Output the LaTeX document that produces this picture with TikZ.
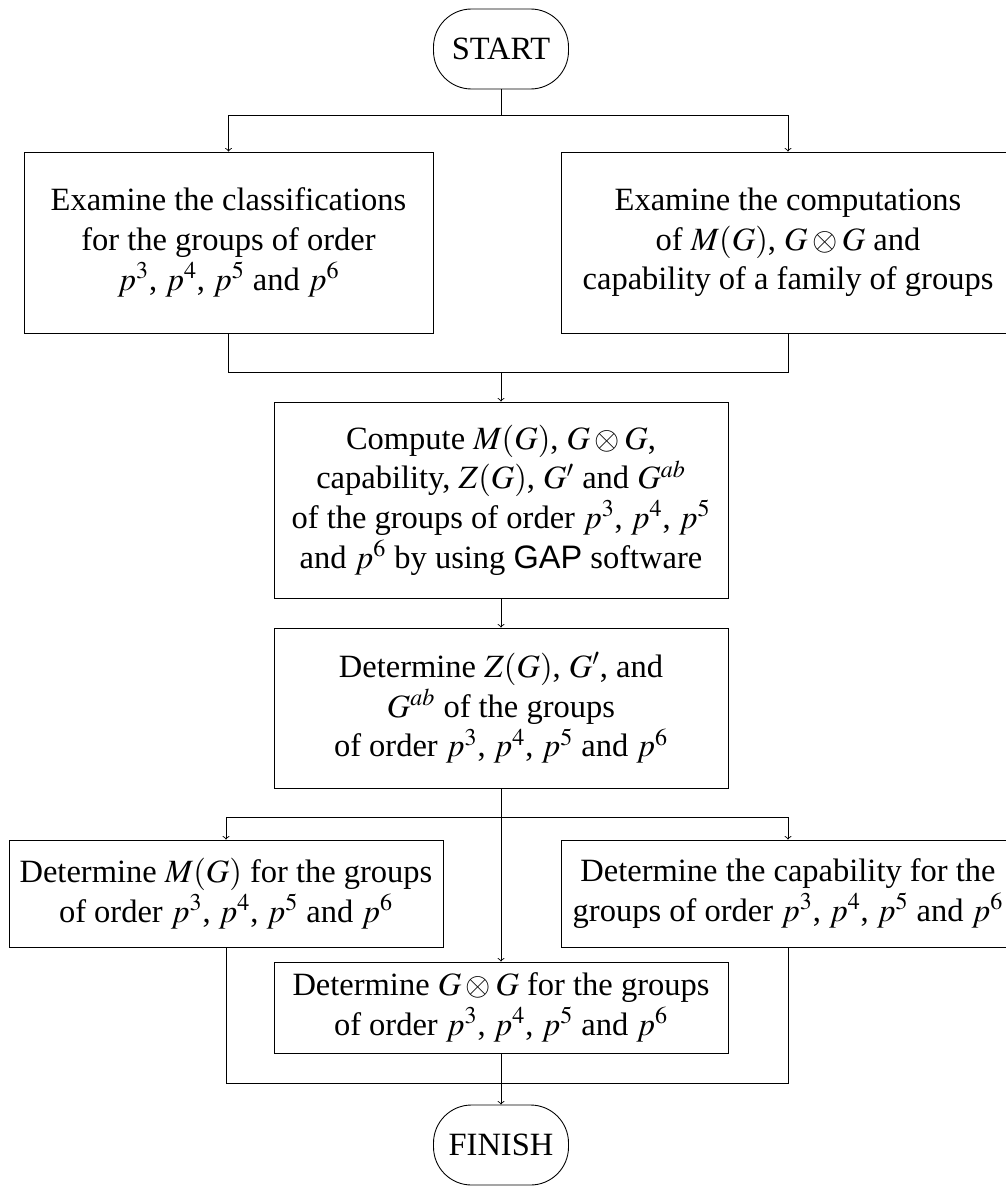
\documentclass[tikz,border=0pt]{standalone}
\usepackage{mathptmx}
\usepackage{fontspec}
\setmainfont{Liberation Serif}
\setsansfont{Liberation Sans}
\usetikzlibrary{positioning}
\newcommand{\px}{0.02cm}
\begin{document}
\begin{tikzpicture}[x=\px,y=-\px,line width=0.5pt,>=to,
  box/.style={draw,align=center,inner sep=0pt,font=\fontsize{18.5}{22.6}\selectfont},
  term/.style={draw,rounded corners=38*\px,minimum width=135*\px,minimum height=80*\px,inner sep=0pt,font=\fontsize{18.5}{22}\selectfont}]
\useasboundingbox (0,0) rectangle (1006,1186);

% Terminals
\node[term] (start) at (501,49) {START};
\node[term] (finish) at (501,1145) {FINISH};

% First row: the two surveys
\node[box,minimum width=409*\px,minimum height=181*\px] (examA) at (228.5,242.5)
  {Examine the classifications\\ for the groups of order\\ $p^3$, $p^4$, $p^5$ and $p^6$};
\node[box,minimum width=454*\px,minimum height=181*\px] (examB) at (788,242.5)
  {Examine the computations\\ of $M(G)$, $G\otimes G$ and\\ capability of a family of groups};

% Computation and first results
\node[box,minimum width=454*\px,minimum height=196*\px] (comp) at (501,500)
  {Compute $M(G)$, $G\otimes G$,\\ capability, $Z(G)$, $G'$ and $G^{ab}$\\ of the groups of order $p^3$, $p^4$, $p^5$\\ and $p^6$ by using \textsf{GAP} software};
\node[box,minimum width=454*\px,minimum height=160*\px] (detZ) at (501,708)
  {Determine $Z(G)$, $G'$, and\\ $G^{ab}$ of the groups\\ of order $p^3$, $p^4$, $p^5$ and $p^6$};

% Last row: the three invariants
\node[box,minimum width=434*\px,minimum height=107*\px] (detM) at (226,893.5)
  {Determine $M(G)$ for the groups\\ of order $p^3$, $p^4$, $p^5$ and $p^6$};
\node[box,minimum width=454*\px,minimum height=107*\px] (detCap) at (788,893.5)
  {Determine the capability for the\\ groups of order $p^3$, $p^4$, $p^5$ and $p^6$};
\node[box,minimum width=454*\px,minimum height=91*\px] (detT) at (501,1007.5)
  {Determine $G\otimes G$ for the groups\\ of order $p^3$, $p^4$, $p^5$ and $p^6$};

% Connectors
\coordinate (top) at (501,115);
\draw (start) -- (top);
\draw[->] (top) -| (examA.north);
\draw[->] (top) -| (examB.north);

\coordinate (mid) at (501,372);
\draw (examA.south) |- (mid);
\draw (examB.south) |- (mid);
\draw[->] (mid) -- (comp.north);
\draw[->] (comp) -- (detZ);

\coordinate (fork) at (501,817);
\draw (detZ.south) -- (fork);
\draw[->] (fork) -| (detM.north);
\draw[->] (fork) -| (detCap.north);
\draw[->] (fork) -- (detT.north);

\coordinate (join) at (501,1083);
\draw (detM.south) |- (join);
\draw (detCap.south) |- (join);
\draw[->] (detT.south) -- (finish.north);
\end{tikzpicture}
\end{document}
